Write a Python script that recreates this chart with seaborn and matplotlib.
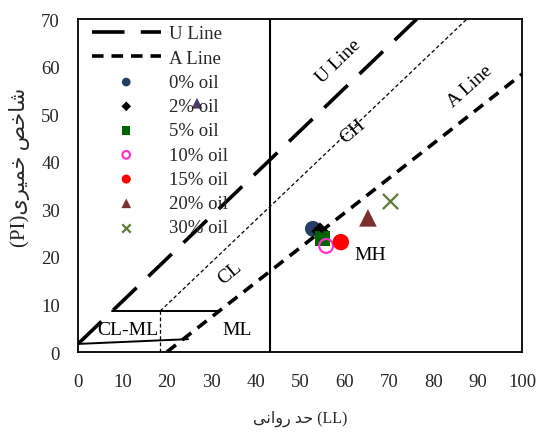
import numpy as np
import pandas as pd
import matplotlib
matplotlib.use("Agg")
import matplotlib.pyplot as plt
import seaborn as sns

# boundary lines (LL, PI)
u_ll = [0, 76.3]
u_pi = [1.7, 70]
a_ll = [20, 100]
a_pi = [0, 58.4]
mid_ll = [18.5, 87.6]
mid_pi = [8.6, 70]
clml_ll = [7.7, 31.5]
clml_pi = [8.6, 8.6]
low_ll = [0, 24.8]
low_pi = [1.7, 2.7]
vdash_ll = [18.5, 18.5]
vdash_pi = [0, 8.6]
v_ll = [43.2, 43.2]
v_pi = [0, 70]

# samples
labels = ["0% oil", "2% oil", "5% oil", "10% oil", "15% oil", "20% oil", "30% oil"]
ll = [52.9, 54.5, 55.0, 55.9, 59.2, 65.3, 70.3]
pi = [25.9, 25.4, 23.8, 22.3, 23.1, 28.2, 31.7]
markers = ["o", "D", "s", "o", "o", "^", "x"]
colors = ["#243f66", "#000000", "#006400", "#ff33cc", "#ff0000", "#7b2f2f", "#5f7a32"]
sizes = [130, 80, 120, 100, 140, 160, 120]

stray_ll = [26.8]
stray_pi = [52.3]

sns.set_style("white")
plt.rcParams["font.family"] = ["Liberation Serif", "DejaVu Sans"]

fig = plt.figure(figsize=(5.42, 4.35), dpi=100)
ax = fig.add_axes([0.1439, 0.1885, 0.8192, 0.7655])

line_kw = dict(estimator=None, sort=False, ax=ax, color="black")
sns.lineplot(x=u_ll, y=u_pi, lw=2.6, linestyle=(0, (9, 4.5)), label="U Line", **line_kw)
sns.lineplot(x=a_ll, y=a_pi, lw=2.6, linestyle=(0, (3.2, 2.2)), label="A Line", **line_kw)
sns.lineplot(x=mid_ll, y=mid_pi, lw=0.9, linestyle=(0, (3, 2)), label="_nolegend_", **line_kw)
sns.lineplot(x=vdash_ll, y=vdash_pi, lw=0.9, linestyle=(0, (3, 2)), label="_nolegend_", **line_kw)
sns.lineplot(x=clml_ll, y=clml_pi, lw=1.4, label="_nolegend_", **line_kw)
sns.lineplot(x=low_ll, y=low_pi, lw=1.4, label="_nolegend_", **line_kw)
sns.lineplot(x=v_ll, y=v_pi, lw=1.5, label="_nolegend_", **line_kw)

for lab, x, y, m, c, s in zip(labels, ll, pi, markers, colors, sizes):
    if m == "o" and lab == "10% oil":
        sns.scatterplot(x=[x], y=[y], marker="o", s=s, facecolors="none",
                        edgecolor=c, linewidth=1.6, label=lab, ax=ax)
    elif m == "x":
        sns.scatterplot(x=[x], y=[y], marker="x", s=s, color=c,
                        linewidth=1.6, label=lab, ax=ax)
    else:
        sns.scatterplot(x=[x], y=[y], marker=m, s=s, color=c,
                        edgecolor="none", label=lab, ax=ax)

sns.scatterplot(x=stray_ll, y=stray_pi, marker="^", s=60, color="#4b3a6b",
                edgecolor="none", label="_nolegend_", ax=ax, zorder=5)

ax.set_xlim(0, 100)
ax.set_ylim(0, 70)
ax.set_xticks(np.arange(0, 101, 10))
ax.set_yticks(np.arange(0, 71, 10))
ax.tick_params(length=0, labelsize=13.5)
ax.tick_params(axis="x", pad=15)
ax.tick_params(axis="y", pad=13)
for sp in ax.spines.values():
    sp.set_visible(True)
    sp.set_color("black")
    sp.set_linewidth(1.3)

txt = dict(fontsize=14, ha="center", va="center", color="black")
ax.text(58.6, 61.2, "U Line", rotation=44, **txt)
ax.text(88.3, 55.9, "A Line", rotation=42, **txt)
ax.text(61.9, 46.4, "CH", rotation=40, **txt)
ax.text(34.2, 16.8, "CL", rotation=40, **txt)
ax.text(65.8, 20.6, "MH", **txt)
ax.text(11.3, 4.8, "CL-ML", **txt)
ax.text(35.8, 4.8, "ML", **txt)

# Persian labels, shaped glyphs in visual order
xlab = "\uFEF0\uFEE7\uFE8D\uFEED\uFEAD \uFEAA\uFEA3 (LL)"
ylab = "(PI)\uFEEF\uFEAE\uFEF4\uFEE4\uFEA7 \uFEBA\uFEA7\uFE8E\uFEB7"
fam = ["Liberation Serif", "DejaVu Sans"]
ax.set_xlabel(xlab, fontsize=11.5, family=fam, labelpad=14)
ax.set_ylabel(ylab, fontsize=15, family=fam)
ax.yaxis.set_label_coords(-0.108, 0.556)

ax.legend(loc="upper left", bbox_to_anchor=(0.02, 0.995), frameon=False,
          fontsize=13.5, borderpad=0.25, borderaxespad=0, labelspacing=0.38,
          handlelength=3.7, handletextpad=0.45, markerscale=0.55)

fig.savefig("out.png", dpi=100)
